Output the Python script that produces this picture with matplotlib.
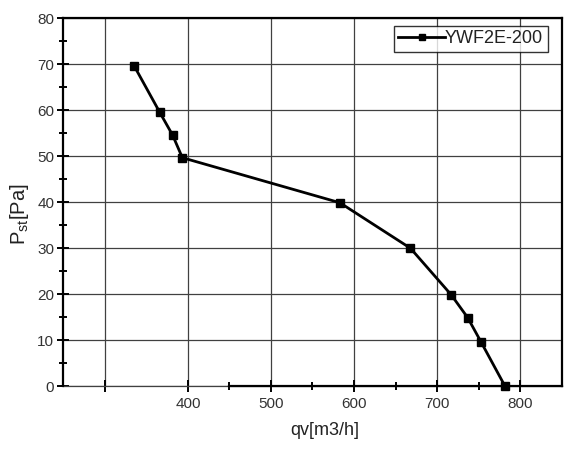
import matplotlib
matplotlib.use("Agg")
import matplotlib.pyplot as plt
from matplotlib.ticker import MultipleLocator, FixedLocator

plt.rcParams['font.family'] = ['Liberation Sans', 'DejaVu Sans']
plt.rcParams['mathtext.fontset'] = 'custom'
plt.rcParams['mathtext.rm'] = 'Liberation Sans'

qv = [335.5, 366, 381.6, 393.3, 583, 668, 716.9, 736.9, 753, 781.8]
pst = [69.6, 59.6, 54.6, 49.7, 39.9, 30, 19.9, 14.9, 9.6, 0]
series_name = "YWF2E-200"
x_ticks = [300, 400, 500, 600, 700, 800]
x_tick_labels = ["", "400", "500", "600", "700", "800"]
y_ticks = [0, 10, 20, 30, 40, 50, 60, 70, 80]

fig = plt.figure(figsize=(5.76, 4.5), dpi=100)
ax = fig.add_axes([0.110, 0.142, 0.865, 0.817])

ax.plot(qv, pst, color='black', lw=2.0, marker='s', ms=5.5,
        label=series_name, zorder=3, clip_on=False)

ax.set_xlim(250, 850)
ax.set_ylim(0, 80)
ax.set_xticks(x_ticks)
ax.set_xticklabels(x_tick_labels)
ax.set_yticks(y_ticks)
ax.xaxis.set_minor_locator(FixedLocator([450, 550, 650, 750]))
ax.yaxis.set_minor_locator(MultipleLocator(5))

ax.grid(True, which='major', color='#404040', lw=0.9)
ax.set_axisbelow(True)
ax.axhline(0, color='#404040', lw=0.9, clip_on=False, zorder=1)

for s in ['left', 'top', 'right', 'bottom']:
    ax.spines[s].set_color('black')
    ax.spines[s].set_linewidth(1.6)
ax.spines['bottom'].set_bounds(450, 850)

ax.tick_params(axis='both', which='major', direction='inout', length=9,
               width=1.4, labelsize=11, labelcolor='#333333', color='black')
ax.tick_params(axis='both', which='minor', direction='inout', length=6,
               width=1.4, color='black')
ax.tick_params(axis='y', pad=2)
ax.tick_params(axis='x', pad=3)

ax.set_xlabel("qv[m3/h]", fontsize=13, color='#222222')
ax.xaxis.set_label_coords(0.525, -0.098)
ax.set_ylabel(r"P$_\mathregular{st}$[Pa]", fontsize=14.5, color='#222222')
ax.yaxis.set_label_coords(-0.065, 0.468)

leg = ax.legend(loc='upper right', fontsize=13, frameon=True, fancybox=False,
                handlelength=2.6, handletextpad=0.0, borderpad=0.25,
                bbox_to_anchor=(0.972, 0.98), borderaxespad=0.0,
                labelcolor='#222222')
leg.get_frame().set_edgecolor('black')
leg.get_frame().set_linewidth(1.0)
for h in leg.legend_handles:
    h.set_markersize(5)

fig.savefig("out.png", dpi=100)
